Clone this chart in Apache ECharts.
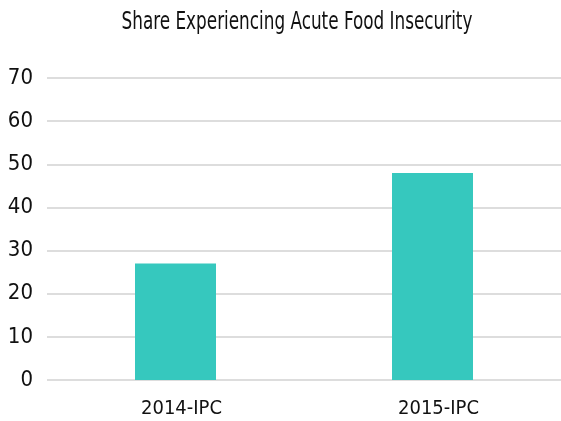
<!DOCTYPE html>
<html>
<head>
<meta charset="utf-8">
<script src="https://cdn.jsdelivr.net/npm/echarts@6/dist/echarts.min.js"></script>
<style>
  html, body { margin: 0; padding: 0; background: #ffffff; }
  #chart { width: 561px; height: 421px; }
</style>
</head>
<body>
<div id="chart"></div>
<script>
// data
var categories = ['2014-IPC', '2015-IPC'];
var shareValues = [27, 48];
var yTicks = { min: 0, max: 70, interval: 10 };

var font = "'DejaVu Sans Condensed', sans-serif";

var chart = echarts.init(document.getElementById('chart'));
chart.setOption({
    animation: false,
    // title drawn as graphic text so it can be squeezed like the narrow original font
    graphic: [{
        type: 'text',
        x: 297,
        y: 11,
        scaleX: 0.78,
        style: {
            text: 'Share Experiencing Acute Food Insecurity',
            textAlign: 'center',
            fontFamily: font,
            fontSize: 24,
            fill: '#111'
        }
    }],
    grid: { left: 47, top: 78, width: 518.6, height: 302 },
    xAxis: {
        type: 'category',
        data: categories,
        axisLine: { show: false },
        axisTick: { show: false },
        axisLabel: { fontFamily: font, fontSize: 20, color: '#111', margin: 19, padding: [0, 0, 0, 12] }
    },
    yAxis: {
        type: 'value',
        min: yTicks.min,
        max: yTicks.max,
        interval: yTicks.interval,
        axisLabel: { fontFamily: font, fontSize: 22, color: '#111', margin: 14 },
        splitLine: { lineStyle: { color: '#dddddd', width: 2 } }
    },
    series: [{
        type: 'bar',
        data: shareValues,
        barWidth: 81,
        itemStyle: { color: '#36c8be' }
    }]
});
</script>
</body>
</html>
